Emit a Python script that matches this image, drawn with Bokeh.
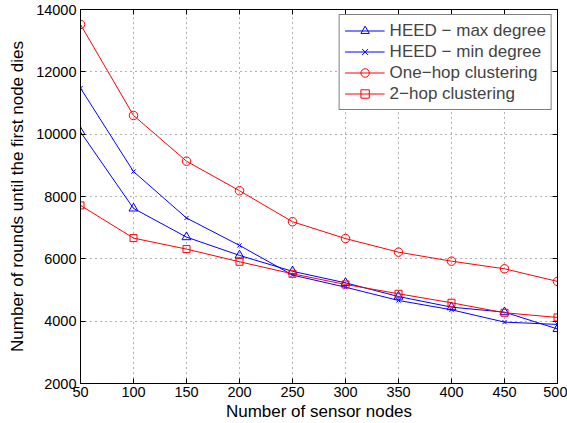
from bokeh.plotting import figure
from bokeh.models import Range1d, LinearAxis, FixedTicker, Legend, LegendItem
from bokeh.embed import file_html
from bokeh.resources import INLINE

nodes = [50, 100, 150, 200, 250, 300, 350, 400, 450, 500]
heed_max = [10070, 7618, 6697, 6110, 5600, 5230, 4790, 4450, 4290, 3750]
heed_min = [11477, 8800, 7310, 6430, 5480, 5090, 4665, 4365, 3970, 3895]
one_hop = [13520, 10600, 9133, 8185, 7190, 6650, 6215, 5925, 5680, 5275]
two_hop = [7714, 6665, 6312, 5906, 5520, 5178, 4879, 4590, 4270, 4120]

x_ticks = [50, 100, 150, 200, 250, 300, 350, 400, 450, 500]
y_ticks = [2000, 4000, 6000, 8000, 10000, 12000, 14000]

FONT = "Liberation Sans"

p = figure(width=567, height=423, output_backend="svg", toolbar_location=None,
           x_range=Range1d(50, 500), y_range=Range1d(2000, 14000),
           min_border_left=80, min_border_right=10, min_border_top=9, min_border_bottom=40)
p.outline_line_color = "black"
p.outline_line_width = 1
p.background_fill_color = "white"
p.border_fill_color = "white"

for ax in (p.xaxis[0], p.yaxis[0]):
    ax.major_tick_in = 5
    ax.major_tick_out = 0
    ax.minor_tick_in = 0
    ax.minor_tick_out = 0
    ax.axis_line_color = "black"
    ax.major_tick_line_color = "black"
    ax.major_label_text_font = FONT
    ax.major_label_text_font_size = "14.5px"
    ax.major_label_text_color = "black"
    ax.axis_label_text_font = FONT
    ax.axis_label_text_font_size = "17px"
    ax.axis_label_text_font_style = "normal"
    ax.axis_label_text_color = "black"

p.xaxis[0].ticker = FixedTicker(ticks=x_ticks)
p.yaxis[0].ticker = FixedTicker(ticks=y_ticks)
p.xaxis[0].axis_label = "Number of sensor nodes"
p.yaxis[0].axis_label = "Number of rounds until the first node dies"
p.xaxis[0].axis_label_standoff = 2
p.xaxis[0].major_label_standoff = 3
p.yaxis[0].axis_label_standoff = 6
p.yaxis[0].major_label_standoff = 4

for loc, ticks in (("right", y_ticks), ("above", x_ticks)):
    ax = LinearAxis(ticker=FixedTicker(ticks=ticks), major_tick_in=5, major_tick_out=0,
                    minor_tick_in=0, minor_tick_out=0,
                    major_label_overrides={t: "" for t in ticks},
                    major_label_text_font_size="1px",
                    major_label_standoff=0, axis_label_standoff=0,
                    axis_line_color="black")
    p.add_layout(ax, loc)

p.xgrid.ticker = FixedTicker(ticks=x_ticks)
p.ygrid.ticker = FixedTicker(ticks=y_ticks)
for g in (p.xgrid[0], p.ygrid[0]):
    g.grid_line_color = "black"
    g.grid_line_alpha = 0.6
    g.grid_line_dash = "1 4"
    g.grid_line_width = 1

blue = "#0000ff"
red = "#ff0000"

l1 = p.line(nodes, heed_max, line_color=blue, line_width=1)
m1 = p.scatter(nodes, heed_max, marker="triangle", size=9, line_color=blue, fill_color=None)
l2 = p.line(nodes, heed_min, line_color=blue, line_width=1)
m2 = p.scatter(nodes, heed_min, marker="x", size=6, line_color=blue)
l3 = p.line(nodes, one_hop, line_color=red, line_width=1)
m3 = p.scatter(nodes, one_hop, marker="circle", size=8.5, line_color=red, fill_color=None)
l4 = p.line(nodes, two_hop, line_color=red, line_width=1)
m4 = p.scatter(nodes, two_hop, marker="square", size=7, line_color=red, fill_color=None)

legend = Legend(items=[
    LegendItem(label="HEED \u2212 max degree", renderers=[l1, m1]),
    LegendItem(label="HEED \u2212 min degree", renderers=[l2, m2]),
    LegendItem(label="One\u2212hop clustering", renderers=[l3, m3]),
    LegendItem(label="2\u2212hop clustering", renderers=[l4, m4]),
], location="top_right")
legend.label_text_font = FONT
legend.label_text_font_size = "17px"
legend.border_line_color = "black"
legend.border_line_width = 1
legend.margin = 5
legend.padding = 5
legend.spacing = 0
legend.glyph_width = 40
legend.glyph_height = 21
legend.label_height = 21
legend.label_standoff = 5
p.add_layout(legend, "center")

open("out.html", "w").write(file_html(p, INLINE))
